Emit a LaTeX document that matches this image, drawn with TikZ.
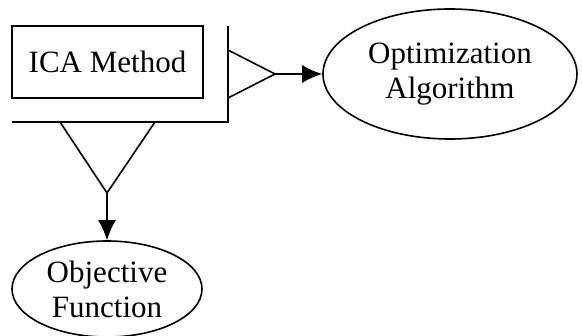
\documentclass[tikz,border=0pt]{standalone}
\usepackage{fontspec}
\setmainfont{Liberation Serif}
\usetikzlibrary{arrows.meta,shapes.geometric}
\begin{document}
\begin{tikzpicture}[x=1pt,y=-1pt,line width=1.6pt,
  lbl/.style={font=\fontsize{31}{35}\selectfont,align=center,inner sep=0pt},
  ell/.style={lbl,draw,ellipse},
  arr/.style={-{Latex[length=20pt,width=18pt]}}]
\useasboundingbox (0,0) rectangle (582,336);
% entity box
\node[lbl,draw,minimum width=191pt,minimum height=72pt] (ica) at (107.5,62) {ICA Method};
% frame around the box
\coordinate (ftop) at (228,26);
\coordinate (fcorner) at (228,122);
\coordinate (fleft) at (12,122);
\draw (ftop) -- (fcorner) -- (fleft);
% right triangle and arrow
\coordinate (rt1) at (228,50);
\coordinate (rt2) at (228,98);
\coordinate (rapex) at (275,74);
\draw (rt1) -- (rapex) -- (rt2);
\node[ell,minimum width=254pt,minimum height=130pt] (opt) at (450,74) {Optimization\\Algorithm};
\draw[arr] (rapex) -- (opt.west);
% bottom triangle and arrow
\coordinate (bt1) at (60,122);
\coordinate (bt2) at (155,122);
\coordinate (bapex) at (107,193);
\draw (bt1) -- (bapex) -- (bt2);
\node[ell,minimum width=190pt,minimum height=96pt] (obj) at (107,289) {Objective\\Function};
\draw[arr] (bapex) -- (obj.north);
\end{tikzpicture}
\end{document}
